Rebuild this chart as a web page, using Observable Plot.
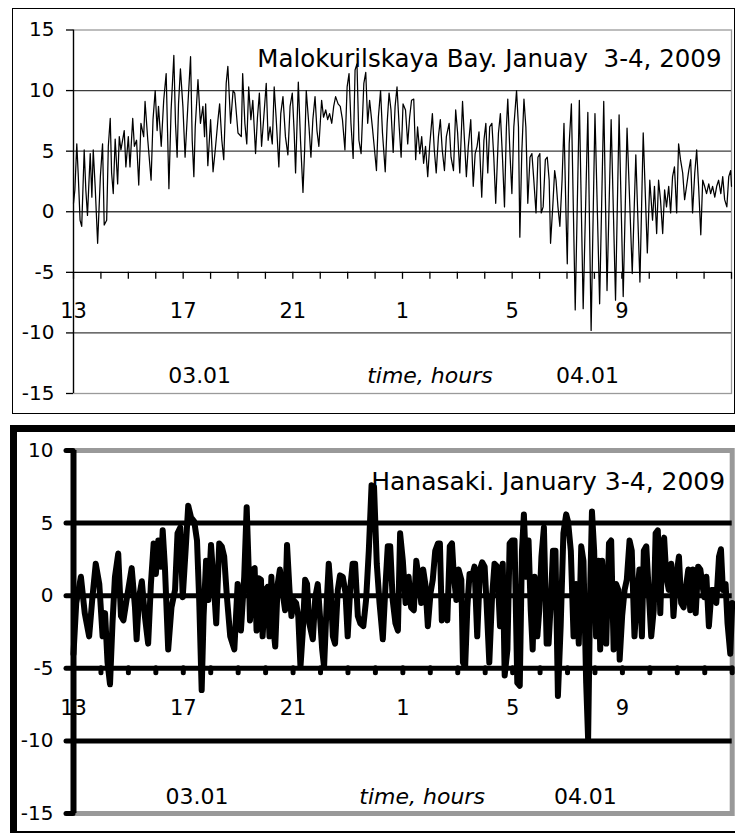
<!DOCTYPE html>
<html>
<head>
<meta charset="utf-8">
<script src="https://cdn.jsdelivr.net/npm/d3@7"></script>
<script src="https://cdn.jsdelivr.net/npm/@observablehq/plot@0.6"></script>
<style>
  body { margin: 0; background: #fff; }
  #root { position: relative; width: 735px; height: 833px; overflow: hidden; font-family: "DejaVu Sans", sans-serif; }
  #c1, #c2 { position: absolute; left: 0; }
  #c1 { top: 0; }
  #c2 { top: 415px; }
  .panel { position: absolute; box-sizing: border-box; pointer-events: none; }
  #p1 { left: 12px; top: 8px; width: 723px; height: 406px; border: 1.5px solid #000; }
  #p2 { left: 10px; top: 425px; width: 740px; height: 408px; border-top: 7px solid #000; border-left: 7px solid #000; border-bottom: 2px solid #000; }
</style>
</head>
<body>
<div id="root">
  <div id="c1"></div>
  <div id="c2"></div>
  <div class="panel" id="p1"></div>
  <div class="panel" id="p2"></div>
</div>
<script>
// ---------- data: [hour since 03.01 00:00, sea level] ----------
const malokurilskaya = [
  [13.00,0.7],[13.05,1.8],[13.12,5.6],[13.17,3.2],[13.24,-0.7],[13.30,-1.2],[13.39,5.1],[13.45,1.8],[13.51,-0.3],[13.61,4.8],
  [13.67,1.2],[13.72,5.1],[13.79,2.1],[13.88,-2.6],[13.98,2.9],[14.06,5.6],[14.12,-1.1],[14.21,-0.7],[14.27,5.4],[14.34,7.7],
  [14.39,3.2],[14.45,1.5],[14.52,6.0],[14.61,2.3],[14.67,6.2],[14.73,5.1],[14.85,6.7],[14.91,3.7],[15.00,6.2],[15.06,3.7],
  [15.16,7.7],[15.22,5.4],[15.30,5.9],[15.38,2.2],[15.46,7.3],[15.56,6.2],[15.61,9.1],[15.71,5.9],[15.83,2.6],[15.90,7.6],
  [15.98,10.0],[16.05,6.7],[16.10,8.7],[16.20,5.4],[16.29,9.2],[16.38,11.4],[16.48,1.9],[16.56,8.4],[16.66,12.9],[16.72,7.3],
  [16.78,4.5],[16.83,8.9],[16.90,11.8],[16.99,8.7],[17.07,4.5],[17.17,8.7],[17.27,12.8],[17.33,5.9],[17.39,2.9],[17.44,7.0],
  [17.54,10.9],[17.63,7.3],[17.72,8.7],[17.78,6.2],[17.82,8.9],[17.90,3.8],[18.00,7.6],[18.09,3.3],[18.17,5.1],[18.27,7.6],
  [18.33,8.9],[18.41,5.9],[18.48,4.3],[18.57,10.6],[18.63,12.0],[18.73,7.3],[18.82,10.0],[18.88,9.8],[19.00,6.5],[19.12,6.2],
  [19.17,11.4],[19.25,7.3],[19.32,5.6],[19.39,10.3],[19.47,7.6],[19.54,9.2],[19.64,4.8],[19.71,7.8],[19.78,9.8],[19.86,5.4],
  [19.94,7.8],[20.03,10.6],[20.10,5.9],[20.17,7.0],[20.25,5.6],[20.32,10.3],[20.39,7.8],[20.49,3.7],[20.56,8.1],[20.64,9.5],
  [20.73,6.2],[20.82,4.7],[20.90,8.7],[20.98,9.8],[21.05,6.5],[21.10,3.2],[21.20,10.7],[21.28,5.9],[21.37,1.6],[21.43,5.1],
  [21.49,10.0],[21.59,7.0],[21.66,4.5],[21.73,7.6],[21.81,9.5],[21.88,6.7],[21.95,5.4],[22.05,9.2],[22.12,7.8],[22.20,8.4],
  [22.27,7.6],[22.34,8.1],[22.42,7.3],[22.49,8.7],[22.56,9.5],[22.65,8.9],[22.73,8.7],[22.81,7.6],[22.90,5.1],[22.98,10.3],
  [23.05,11.4],[23.12,7.3],[23.20,4.4],[23.27,11.7],[23.34,12.2],[23.41,5.9],[23.49,4.8],[23.59,10.6],[23.66,11.5],[23.73,7.3],
  [23.80,9.2],[23.90,7.0],[23.98,5.1],[24.05,3.4],[24.12,7.8],[24.20,10.0],[24.27,6.5],[24.37,3.3],[24.44,7.3],[24.51,9.8],
  [24.58,8.4],[24.66,4.9],[24.73,8.7],[24.80,10.3],[24.88,7.0],[24.95,4.5],[25.02,8.9],
  [25.11,8.4],[25.19,5.6],[25.26,7.8],[25.33,9.2],[25.41,9.3],[25.48,4.3],[25.55,7.0],[25.63,4.8],[25.70,6.2],[25.77,4.0],
  [25.84,5.4],[25.92,2.9],[25.99,5.4],[26.09,8.1],[26.16,5.1],[26.23,3.2],[26.31,6.2],[26.38,7.6],[26.45,5.1],[26.53,3.4],
  [26.60,6.2],[26.70,7.3],[26.77,4.5],[26.86,3.4],[26.94,8.4],[27.01,6.5],[27.09,3.2],[27.19,9.1],[27.26,5.9],[27.33,2.9],
  [27.40,5.4],[27.49,7.6],[27.58,2.1],[27.65,4.8],[27.72,5.4],[27.79,6.6],[27.89,1.2],[27.97,5.9],[28.04,7.3],[28.11,3.2],
  [28.18,7.0],[28.26,7.3],[28.33,4.5],[28.40,0.7],[28.50,6.5],[28.57,8.1],[28.65,4.3],[28.72,0.4],[28.79,7.0],[28.84,9.3],
  [28.92,4.8],[28.99,1.5],[29.06,7.0],[29.16,10.0],[29.23,7.0],[29.28,-2.1],[29.35,4.8],[29.43,9.3],[29.50,7.0],[29.57,0.7],
  [29.65,4.5],[29.72,4.8],[29.79,2.6],[29.87,-0.1],[29.94,4.5],[30.01,4.8],[30.06,-0.1],[30.13,0.4],[30.21,4.3],[30.28,4.5],
  [30.35,2.6],[30.40,-2.6],[30.48,0.4],[30.55,3.4],[30.60,2.6],[30.67,0.4],[30.74,-1.2],[30.82,2.6],[30.89,7.3],[30.96,0.1],
  [31.01,-4.3],[31.08,5.6],[31.16,8.9],
  [31.30,-8.1],[31.45,9.2],[31.59,-8.0],[31.76,8.2],[31.88,-9.8],[32.02,8.1],[32.19,-7.6],[32.34,9.1],[32.46,-6.5],[32.61,7.6],
  [32.77,-7.3],[32.90,8.0],[33.05,-7.0],[33.19,6.9],[33.38,-5.1],[33.51,4.7],[33.66,-5.8],[33.78,6.5],[33.93,-3.4],[34.02,2.6],
  [34.12,-0.7],[34.19,2.1],[34.27,-1.8],[34.34,2.6],[34.41,1.0],[34.49,-1.8],[34.56,1.8],[34.63,0.4],[34.71,2.1],[34.78,-0.1],
  [34.85,2.9],[34.92,3.7],[35.00,-0.1],[35.07,5.6],[35.14,4.3],[35.22,3.2],[35.29,1.0],[35.36,2.1],[35.44,3.4],[35.51,4.3],
  [35.58,-0.1],[35.66,3.2],[35.73,5.1],[35.80,2.1],[35.88,-1.9],[35.95,2.6],[36.02,2.1],[36.09,1.5],[36.17,2.3],[36.24,1.5],
  [36.31,2.1],[36.39,1.2],[36.46,2.1],[36.53,2.6],[36.61,1.5],[36.68,2.9],[36.75,1.0],[36.83,0.4],[36.90,2.9],[36.97,3.4],[37.00,2.1]
];

const hanasaki = [
  [13.00,-4.0],[13.10,-0.5],[13.27,1.3],[13.41,-1.2],[13.57,-2.8],[13.69,-0.1],[13.81,2.2],[13.94,0.8],[14.06,-2.8],[14.15,-1.2],
  [14.24,-4.6],[14.33,-6.1],[14.42,-1.9],[14.51,1.3],[14.63,2.9],[14.73,-1.4],[14.82,-1.7],[14.95,-0.1],[15.12,1.9],[15.24,-0.8],
  [15.30,-3.0],[15.39,-0.1],[15.49,1.0],[15.60,-1.4],[15.72,-3.3],[15.82,0.8],[15.92,3.6],[16.00,1.5],[16.09,3.8],[16.19,2.0],
  [16.25,4.5],[16.33,2.0],[16.45,-3.7],[16.57,-0.8],[16.70,0.4],[16.79,4.3],[16.89,4.7],[16.98,-0.1],[17.10,3.6],[17.18,6.2],
  [17.28,5.4],[17.40,5.1],[17.50,3.8],[17.58,-0.3],[17.67,-6.5],[17.74,-1.4],[17.83,2.4],[17.91,-0.3],[18.01,3.5],[18.11,0.8],
  [18.20,-1.9],[18.31,3.6],[18.40,3.4],[18.49,2.7],[18.59,-0.1],[18.71,-2.8],[18.86,-3.7],[18.98,0.8],
  [19.10,-2.4],[19.22,1.3],[19.31,6.1],[19.38,2.0],[19.43,-1.7],[19.53,1.8],[19.60,1.9],[19.67,-2.4],[19.75,1.2],[19.83,1.1],
  [19.89,-2.8],[19.99,0.4],[20.07,0.6],[20.14,-2.8],[20.21,1.3],[20.29,-2.4],[20.35,-3.5],[20.44,0.8],[20.52,1.8],[20.62,0.2],
  [20.71,-1.0],[20.78,3.5],[20.87,0.4],[20.94,-1.4],[21.01,-0.3],[21.11,-0.5],[21.19,-1.4],[21.27,-4.9],[21.35,-2.6],[21.44,1.1],
  [21.51,0.8],[21.59,-1.9],[21.72,-3.0],[21.81,-0.1],[21.90,0.8],[21.98,-1.4],[22.06,-3.7],[22.13,-4.9],[22.23,-0.3],[22.30,2.2],
  [22.37,0.4],[22.45,-2.8],[22.53,-3.3],[22.63,0.4],[22.71,1.4],[22.81,1.3],[22.91,0.2],[22.99,-2.8],[23.08,0.4],[23.17,2.2],
  [23.26,2.2],[23.36,-1.4],[23.45,-1.9],[23.56,-2.1],[23.66,-0.3],[23.76,3.1],[23.86,7.6],[23.95,7.5],[24.05,2.2],[24.15,-0.5],
  [24.27,-3.0],[24.37,0.8],[24.45,3.4],[24.54,3.4],[24.63,-0.3],[24.73,-1.9],[24.82,-2.4],[24.90,4.3],[25.00,2.4],[25.10,-0.5],
  [25.13,0.4],[25.21,1.3],[25.30,-0.8],[25.40,-1.0],[25.49,2.4],[25.57,1.3],[25.67,-0.5],[25.74,1.8],[25.82,0.8],[25.91,-2.1],
  [26.01,0.2],[26.09,1.1],[26.18,3.1],[26.28,3.6],[26.35,3.6],[26.42,-1.7],[26.52,-0.3],[26.62,-1.7],[26.71,3.4],[26.79,3.6],
  [26.86,1.3],[26.95,-0.3],[27.03,1.8],[27.13,1.1],[27.19,-4.6],[27.27,-4.9],[27.35,-0.8],[27.43,1.5],[27.52,1.3],[27.61,2.0],
  [27.71,-2.8],[27.81,1.8],[27.89,2.3],[27.98,2.0],[28.05,-0.5],[28.15,-4.6],[28.25,-0.1],[28.34,2.2],[28.44,2.0],[28.54,-2.1],
  [28.64,2.2],[28.71,-5.5],[28.81,-3.7],[28.89,3.6],[28.98,3.8],[29.07,3.8],[29.17,-6.0],[29.26,-6.2],[29.34,3.1],[29.41,5.6],
  [29.50,1.3],[29.58,3.8],[29.66,-1.0],[29.73,-3.7],[29.80,1.3],[29.90,-2.8],[29.97,-1.0],[30.05,2.7],[30.14,4.7],[30.24,-3.3],
  [30.31,-3.3],[30.39,-0.5],[30.47,3.1],[30.56,3.1],[30.65,-6.9],[30.75,-2.1],[30.85,4.3],[30.95,5.6],[31.02,5.1],[31.12,3.1],
  [31.22,-2.8],[31.31,0.8],[31.41,-3.3],[31.50,3.4],[31.58,2.4],[31.68,-6.0],[31.75,-9.9],[31.83,0.8],[31.89,5.8],[31.97,3.1],
  [32.04,-2.8],[32.13,2.4],[32.19,-3.7],[32.26,2.4],[32.34,-0.1],[32.41,-3.3],[32.51,3.6],[32.59,3.8],[32.68,-3.7],[32.77,0.8],
  [32.85,0.4],[32.90,-4.4],[32.99,-1.4],[33.08,0.4],[33.16,1.1],[33.26,3.8],[33.34,3.1],[33.44,-2.8],[33.53,-0.1],[33.62,1.8],
  [33.71,-2.8],[33.78,3.1],[33.87,3.4],[33.95,0.6],[34.05,-2.8],[34.14,-1.0],[34.21,4.3],[34.29,4.5],[34.38,-1.2],[34.45,3.1],
  [34.52,4.0],[34.60,1.3],[34.69,0.4],[34.78,2.2],[34.86,-1.4],[34.96,1.3],[35.06,2.7],[35.14,-0.5],[35.23,-0.8],[35.33,0.8],
  [35.40,1.8],[35.47,-1.0],[35.57,1.8],[35.67,-1.2],[35.76,2.0],[35.84,1.8],[35.91,0.8],[35.98,-0.1],[36.06,1.3],[36.15,-2.1],
  [36.25,0.4],[36.32,0.4],[36.42,-0.5],[36.52,2.7],[36.59,3.2],[36.66,0.4],[36.76,0.8],[36.83,-1.9],[36.93,-4.0],[37.00,-0.5]
];

const hourTicks = [13,14,15,16,17,18,19,20,21,22,23,24,25,26,27,28,29,30,31,32,33,34,35,36,37];
const hourLabelAt = [13, 17, 21, 25, 29, 33];
const hourLabelText = ["13", "17", "21", "1", "5", "9"];
const topYTicks = [-15, -10, -5, 0, 5, 10, 15];
const topGrid = [10, 5, 0, -10];
const botYTicks = [-15, -10, -5, 0, 5, 10];
const botGrid = [5, 0, -5, -10];
const axisCross = -5;

const titleTop = "Malokurilskaya Bay. Januay  3-4, 2009";
const titleBot = "Hanasaki. January 3-4, 2009";
const dayNotesTop = [{h: 17.6, t: "03.01"}, {h: 31.75, t: "04.01"}];
const dayNotesBot = [{h: 17.5, t: "03.01"}, {h: 31.65, t: "04.01"}];
const axisTitle = "time, hours";
const axisTitleTop = [{h: 26.0, t: axisTitle}];
const axisTitleBot = [{h: 25.7, t: axisTitle}];

// ---------- build ----------
const FONT = "DejaVu Sans";
const labelMap = new Map(hourLabelAt.map((h, i) => [h, hourLabelText[i]]));
const fmtHour = d => labelMap.get(d) ?? "";
const toRows = arr => arr.map(([h, v]) => ({h, v}));

function offsetFor(height, mTop, mBottom, domain, value) {
  const y = d3.scaleLinear().domain(domain).range([height - mBottom, mTop]);
  return y(domain[0]) - y(value);
}

// Top chart
{
  const W = 735, H = 415, mT = 29.5, mB = 22, mL = 73, mR = 4;
  const yDom = [-15, 15];
  const off = offsetFor(H, mT, mB, yDom, axisCross);
  const chart = Plot.plot({
    width: W, height: H, marginTop: mT, marginBottom: mB, marginLeft: mL, marginRight: mR,
    x: {domain: [13, 37]},
    y: {domain: yDom},
    style: {fontFamily: FONT, fontSize: "20px", color: "#000", background: "transparent", overflow: "visible"},
    marks: [
      Plot.frame({stroke: "#9a9a9a", strokeWidth: 1.3}),
      Plot.ruleY(topGrid, {stroke: "#3c3c3c", strokeWidth: 1.3}),
      Plot.ruleY([axisCross], {stroke: "#000", strokeWidth: 1.3}),
      Plot.ruleX([13], {stroke: "#000", strokeWidth: 1.3}),
      Plot.axisY({ticks: topYTicks, tickSize: 7, tickPadding: 12, tickFormat: d => String(d), label: null, fontSize: 20, strokeWidth: 1.3}),
      Plot.axisX({ticks: hourTicks, tickSize: 7, tickPadding: 24, dy: -off, tickFormat: fmtHour, label: null, fontSize: 21, strokeWidth: 1.3}),
      Plot.line(toRows(malokurilskaya), {x: "h", y: "v", stroke: "#000", strokeWidth: 1.25}),
      Plot.text(dayNotesTop, {x: "h", text: "t", frameAnchor: "bottom", lineAnchor: "bottom", dy: -11, fontSize: 22}),
      Plot.text(axisTitleTop, {x: "h", text: "t", frameAnchor: "bottom", lineAnchor: "bottom", dy: -11, fontSize: 22, fontStyle: "italic"}),
      Plot.text([titleTop], {text: d => d, frameAnchor: "top-right", textAnchor: "end", lineAnchor: "bottom", dx: -10, dy: 36.5, fontSize: 24.5})
    ]
  });
  chart.querySelectorAll("text").forEach(t => { if (t.textContent.includes("Malokurilskaya")) t.style.whiteSpace = "pre"; });
  document.getElementById("c1").appendChild(chart);
}

// Bottom chart
{
  const W = 735, H = 418, mT = 35, mB = 20, mL = 73, mR = 3.3;
  const yDom = [-15, 10];
  const off = offsetFor(H, mT, mB, yDom, axisCross);
  const chart = Plot.plot({
    width: W, height: H, marginTop: mT, marginBottom: mB, marginLeft: mL, marginRight: mR,
    x: {domain: [13, 37]},
    y: {domain: yDom},
    style: {fontFamily: FONT, fontSize: "20px", color: "#000", background: "transparent", overflow: "visible"},
    marks: [
      Plot.frame({stroke: "#999", strokeWidth: 5}),
      Plot.ruleY(botGrid, {stroke: "#000", strokeWidth: 5}),
      Plot.ruleX([13], {stroke: "#000", strokeWidth: 6}),
      Plot.axisY({ticks: botYTicks, tickSize: 7, tickPadding: 13, tickFormat: d => String(d), label: null, fontSize: 20, strokeWidth: 5, strokeLinecap: "round"}),
      Plot.axisX({ticks: hourTicks, tickSize: 5, tickPadding: 27, dy: -off, tickFormat: fmtHour, label: null, fontSize: 21, strokeWidth: 5, strokeLinecap: "round"}),
      Plot.line(toRows(hanasaki), {x: "h", y: "v", stroke: "#000", strokeWidth: 6, strokeLinejoin: "round", strokeLinecap: "round"}),
      Plot.text(dayNotesBot, {x: "h", text: "t", frameAnchor: "bottom", lineAnchor: "bottom", dy: -10, fontSize: 22}),
      Plot.text(axisTitleBot, {x: "h", text: "t", frameAnchor: "bottom", lineAnchor: "bottom", dy: -10, fontSize: 22, fontStyle: "italic"}),
      Plot.text([titleBot], {text: d => d, frameAnchor: "top-right", textAnchor: "end", lineAnchor: "bottom", dx: -7, dy: 39, fontSize: 25})
    ]
  });
  document.getElementById("c2").appendChild(chart);
}
</script>
</body>
</html>
